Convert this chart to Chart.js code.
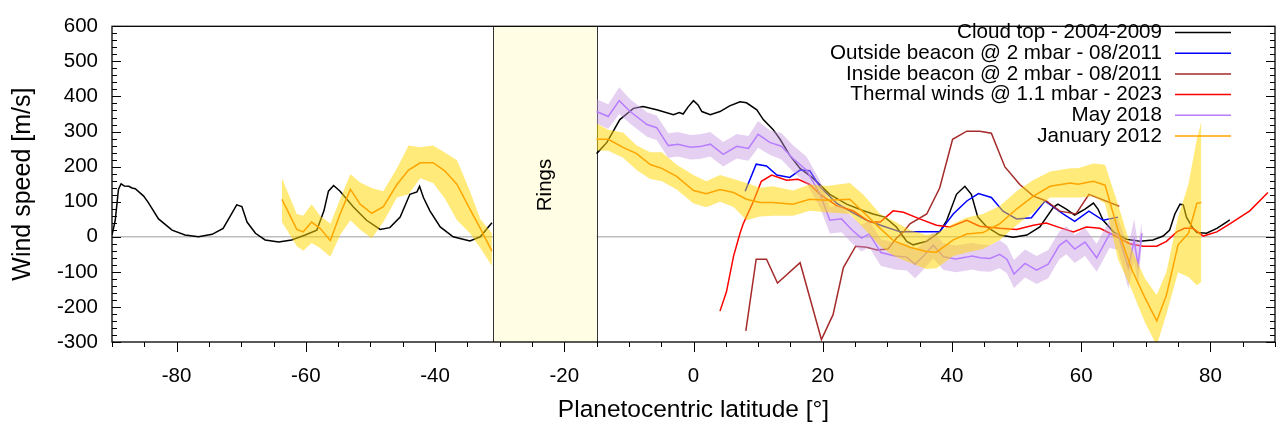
<!DOCTYPE html>
<html>
<head>
<meta charset="utf-8">
<script src="https://cdn.jsdelivr.net/npm/chart.js@4.4.0/dist/chart.umd.min.js"></script>
<style>
  html, body { margin: 0; padding: 0; background: #fff; }
</style>
</head>
<body>
<canvas id="chart" width="1281" height="427"></canvas>
<script>
// cloud top 2004-2009 (southern and northern pieces)
const cloudLatS = [-90, -89.5, -89, -88.6, -88.1, -87.4, -86.9, -86.4, -85.1, -84.4, -82.8, -80.7, -78.7, -76.6, -74.5, -72.8, -71.5, -70.7, -69.9, -69.1, -67.8, -66.3, -64.2, -62.2, -60.1, -58.3, -57.2, -56.5, -55.7, -54.7, -52.6, -50.6, -48.5, -47, -45.4, -43.9, -42.8, -42.4, -41.8, -40.8, -39.2, -37.2, -34.6, -33, -31.2];
const cloudS = [5, 47, 135, 151, 145, 144, 139, 137, 116, 98, 51, 19, 5, 0, 7, 24, 65, 91, 86, 42, 10, -9, -15, -9, 5, 19, 74, 130, 146, 130, 84, 47, 21, 26, 56, 121, 128, 144, 112, 74, 28, 0, -12, 0, 40];
const cloudLatN = [-15, -13.4, -11.4, -9.3, -7.8, -5.7, -3.1, -2.2, -1.6, -0.8, 0, 0.7, 1.3, 2.6, 4.1, 5.6, 7.2, 8.2, 9.8, 10.8, 12.3, 13.4, 14.9, 16.5, 18.5, 21.1, 23.7, 26.3, 27.8, 29.6, 31.4, 33, 34, 36.1, 38.1, 39.2, 40.7, 42, 43, 44, 45.4, 47.4, 49.5, 51.6, 53.6, 55.7, 56.4, 57.7, 59, 60.6, 61.9, 62.6, 63.4, 65, 67, 69.1, 71.1, 72.7, 73.7, 74.5, 75.3, 75.8, 76.3, 77.3, 77.9, 79.4, 81, 82.5, 83];
const cloudN = [237, 269, 334, 366, 371, 362, 348, 354, 350, 371, 388, 376, 357, 348, 357, 373, 385, 382, 362, 334, 306, 278, 232, 195, 167, 121, 93, 74, 65, 56, 28, -13, -23, -13, 14, 47, 121, 144, 121, 56, 28, 5, -1, 5, 28, 84, 93, 79, 62, 79, 96, 79, 47, 14, -7, -13, -9, 2, 19, 65, 93, 91, 56, 24, 12, 10, 24, 42, 48];

// outside beacon @ 2 mbar - 08/2011
const outsideLat = [8, 9.7, 11.3, 12.9, 14.9, 16.5, 18, 19.6, 22.2, 24.5, 26.8, 29.4, 32, 35, 38.1, 40.2, 42.3, 44.1, 46.1, 47.9, 50, 52.3, 54.4, 57.2, 59, 61.2, 63.4, 65.7];
const outside = [130, 207, 202, 176, 169, 190, 188, 142, 95, 70, 47, 30, 14, 14, 14, 65, 102, 123, 112, 73, 51, 54, 102, 65, 44, 73, 47, 56];

// inside beacon @ 2 mbar - 08/2011
const insideLat = [8.1, 9.7, 11.3, 13, 16.5, 19.8, 21.6, 23.2, 25.1, 26.8, 28.4, 30.1, 31.4, 32.5, 33.5, 36.1, 38.1, 40.1, 42.3, 44.3, 46.1, 48.2, 50.5, 52.6, 54.6, 56.7, 59.2, 61.2, 65.9];
const inside = [-268, -64, -64, -132, -74, -293, -222, -88, -27, -30, -38, -35, -4, 14, 37, 65, 139, 278, 301, 301, 295, 199, 149, 116, 102, 73, 65, 121, 87];

// thermal winds @ 1.1 mbar - 2023
const thermalLat = [4.1, 5.1, 6.2, 7.2, 7.7, 9.3, 10.5, 12.1, 14.4, 16.2, 18, 19.6, 22.2, 24.7, 27.3, 28.9, 30.9, 32.5, 35, 37.6, 39.7, 42.3, 44.3, 47.4, 50, 52.6, 54.6, 56.7, 58.8, 60.8, 62.9, 65.5, 67.5, 69.6, 71.7, 73.2, 74.8, 76, 77.3, 78.9, 81, 83, 86.1, 88.9];
const thermal = [-212, -157, -55, 10, 37, 102, 158, 176, 161, 164, 149, 121, 88, 74, 42, 42, 74, 70, 51, 33, 28, 47, 30, 24, 21, 33, 39, 26, 14, 28, 24, 0, -20, -27, -27, -13, 14, 24, 24, 2, 14, 37, 74, 126];

// May 2018 (value and error)
const mayLat = [-15, -13.2, -11.5, -9.8, -7.2, -5.7, -3.9, -2.4, -0.5, 1, 2.6, 4.6, 6.7, 8.5, 10, 11.8, 13.6, 15.4, 17.5, 19.6, 21.1, 22.9, 24.5, 26, 27.2, 29, 31.2, 33, 34.3, 35.6, 37.1, 38.7, 40.6, 42.3, 43.1, 44.4, 45.9, 47.4, 48.5, 49.6, 51.3, 53.1, 54.9, 56.6, 57.7, 59, 60.6, 62.4, 64.4, 65.7, 67.3, 68.2, 68.8, 69.4];
const may = [357, 343, 388, 357, 320, 311, 260, 264, 255, 257, 264, 235, 258, 252, 292, 269, 258, 223, 190, 121, 47, 51, 20, -4, 8, -45, -55, -58, -78, -55, -24, -57, -63, -58, -55, -60, -62, -50, -64, -106, -76, -95, -78, -25, -10, -35, -15, -60, 8, 8, -88, -10, -80, 10];
const mayErr = [35, 35, 38, 35, 35, 35, 35, 35, 35, 35, 35, 35, 35, 35, 38, 35, 38, 38, 38, 38, 38, 38, 38, 38, 38, 38, 38, 38, 40, 38, 38, 38, 38, 38, 38, 38, 38, 40, 40, 40, 40, 40, 40, 40, 40, 40, 40, 40, 40, 45, 60, 60, 60, 30];

// January 2012 (value, upper, lower)
const janLatS = [-63.7, -61.4, -60.4, -59.1, -57.8, -56.2, -54.7, -53.1, -51.6, -49.8, -48, -45.9, -44.1, -42.3, -40.3, -38.5, -36.6, -34.6, -33, -31.2];
const janS = [107, 21, 14, 42, 24, -11, 65, 135, 93, 67, 86, 149, 190, 211, 211, 188, 149, 79, 24, -41];
const janHiS = [167, 65, 60, 93, 60, 37, 107, 178, 155, 139, 130, 195, 260, 255, 260, 240, 218, 130, 51, 10];
const janLoS = [42, -27, -40, -18, -32, -57, 5, 47, 20, -4, 42, 112, 121, 167, 153, 110, 47, 10, -32, -83];
const janLatN = [-15, -13.2, -10.9, -8.8, -6.7, -4.9, -2.6, 0, 2, 4.1, 6.2, 8.2, 10.3, 12.3, 15.4, 18, 20.6, 24.2, 26.3, 28.9, 31, 33.5, 36, 37.6, 40.2, 42.3, 44.8, 47.4, 50, 52.6, 55.2, 58.3, 59.5, 61.9, 63.7, 65.7, 67.8, 69.9, 71.7, 73.2, 75, 76.6, 77.9, 78.6];
const janN = [278, 278, 255, 237, 206, 195, 172, 132, 123, 135, 126, 107, 98, 98, 93, 107, 104, 107, 70, 24, -12, -30, -42, -44, -9, 8, 12, 37, 79, 116, 144, 153, 150, 158, 147, 19, -92, -175, -240, -166, -23, 10, 95, 98];
const janHiN = [323, 305, 297, 260, 241, 241, 205, 176, 158, 176, 165, 153, 140, 144, 132, 149, 145, 153, 120, 65, 45, 19, 5, 10, 37, 55, 65, 88, 130, 162, 186, 195, 195, 209, 205, 93, -35, -120, -166, -100, 56, 150, 278, 329];
const janLoN = [246, 245, 225, 190, 165, 158, 135, 95, 84, 100, 85, 47, 58, 60, 60, 74, 70, 65, 25, -27, -55, -74, -92, -90, -55, -45, -35, -9, 33, 70, 112, 112, 112, 115, 95, -64, -150, -245, -310, -220, -101, -115, -138, -129];

const legendLabels = ['Cloud top - 2004-2009', 'Outside beacon @ 2 mbar - 08/2011', 'Inside beacon @ 2 mbar - 08/2011', 'Thermal winds @ 1.1 mbar - 2023', 'May 2018', 'January 2012'];
const legendColors = ['#000000', '#0000ff', '#a52a2a', '#ff0000', '#b77dff', '#ffa500'];
const xTicks = [-80, -60, -40, -20, 0, 20, 40, 60, 80];
const ringLat = [-31, -15];

const FONT = 'Liberation Sans, Arial, Helvetica, sans-serif';
const pts = (lat, val) => lat.map((x, i) => ({ x: x, y: val[i] }));

function line(data, color, order) {
  return { data: data, borderColor: color, borderWidth: 1.5, pointRadius: 0, fill: false, order: order };
}
function edge(data, order, fillTo, bg) {
  return { data: data, borderWidth: 0, borderColor: 'rgba(0,0,0,0)', pointRadius: 0,
           fill: fillTo === undefined ? false : { target: fillTo }, backgroundColor: bg, order: order };
}

const purpleBand = 'rgba(200,150,225,0.45)';
const yellowBand = 'rgba(255,215,0,0.52)';

const datasets = [
  line(pts(cloudLatS, cloudS), '#000000', 20),          // 0
  line(pts(cloudLatN, cloudN), '#000000', 20),          // 1
  line(pts(outsideLat, outside), '#0000ff', 19),        // 2
  line(pts(insideLat, inside), '#a52a2a', 18),          // 3
  line(pts(thermalLat, thermal), '#ff0000', 17),        // 4
  edge(mayLat.map((x, i) => ({ x: x, y: may[i] + mayErr[i] })), 16, 6, purpleBand), // 5
  edge(mayLat.map((x, i) => ({ x: x, y: may[i] - mayErr[i] })), 16),               // 6
  line(pts(mayLat, may), '#b77dff', 15),                // 7
  edge(pts(janLatS, janHiS), 14, 9, yellowBand),        // 8
  edge(pts(janLatS, janLoS), 14),                       // 9
  edge(pts(janLatN, janHiN), 14, 11, yellowBand),       // 10
  edge(pts(janLatN, janLoN), 14),                       // 11
  line(pts(janLatS, janS), '#ffa500', 13),              // 12
  line(pts(janLatN, janN), '#ffa500', 13)               // 13
];

const frame = {
  id: 'frame',
  beforeDatasetsDraw(chart) {
    const { ctx, chartArea: a, scales: { x, y } } = chart;
    ctx.save();
    // zero line
    ctx.strokeStyle = '#bdbdbd';
    ctx.lineWidth = 1.6;
    ctx.beginPath();
    ctx.moveTo(a.left, y.getPixelForValue(0));
    ctx.lineTo(a.right, y.getPixelForValue(0));
    ctx.stroke();
    // rings
    const x0 = x.getPixelForValue(ringLat[0]), x1 = x.getPixelForValue(ringLat[1]);
    ctx.fillStyle = '#fffde3';
    ctx.fillRect(x0, a.top, x1 - x0, a.bottom - a.top);
    ctx.strokeStyle = '#333';
    ctx.lineWidth = 1;
    ctx.beginPath();
    ctx.moveTo(Math.round(x0) + 0.5, a.top); ctx.lineTo(Math.round(x0) + 0.5, a.bottom);
    ctx.moveTo(Math.round(x1) + 0.5, a.top); ctx.lineTo(Math.round(x1) + 0.5, a.bottom);
    ctx.stroke();
    ctx.translate((x0 + x1) / 2, 185);
    ctx.rotate(-Math.PI / 2);
    ctx.fillStyle = '#000';
    ctx.font = '20.5px ' + FONT;
    ctx.textAlign = 'center';
    ctx.textBaseline = 'middle';
    ctx.fillText('Rings', 0, 0);
    ctx.restore();
  },
  afterDraw(chart) {
    const { ctx, chartArea: a, scales: { x, y } } = chart;
    ctx.save();
    ctx.strokeStyle = '#000';
    ctx.lineWidth = 1.3;
    ctx.strokeRect(a.left, a.top, a.right - a.left, a.bottom - a.top);
    ctx.lineWidth = 1;
    ctx.beginPath();
    for (let v = -90; v <= 90; v += 5) {
      const px = Math.round(x.getPixelForValue(v)) + 0.5;
      ctx.moveTo(px, a.bottom);
      ctx.lineTo(px, a.bottom + (v % 20 === 0 ? 10 : 5));
    }
    for (let v = -300; v <= 600; v += 20) {
      const py = Math.round(y.getPixelForValue(v)) + 0.5;
      const len = v % 100 === 0 ? 9 : 5;
      ctx.moveTo(a.left, py); ctx.lineTo(a.left + len, py);
      ctx.moveTo(a.right, py); ctx.lineTo(a.right - len, py);
    }
    ctx.stroke();
    // legend
    ctx.font = '20.6px ' + FONT;
    ctx.textAlign = 'right';
    ctx.textBaseline = 'middle';
    legendLabels.forEach((lab, i) => {
      const ly = 32.5 + i * 20.7;
      ctx.fillStyle = '#000';
      ctx.fillText(lab, 1162, ly);
      ctx.strokeStyle = legendColors[i];
      ctx.lineWidth = 1.5;
      ctx.beginPath();
      ctx.moveTo(1175, ly);
      ctx.lineTo(1231, ly);
      ctx.stroke();
    });
    ctx.restore();
  }
};

new Chart(document.getElementById('chart'), {
  type: 'line',
  data: { datasets: datasets },
  plugins: [frame],
  options: {
    responsive: false,
    animation: false,
    devicePixelRatio: 1,
    layout: { padding: { top: 17, right: 6, left: 0, bottom: 0 } },
    plugins: { legend: { display: false }, tooltip: { enabled: false } },
    elements: { line: { tension: 0 }, point: { radius: 0 } },
    scales: {
      x: {
        type: 'linear',
        min: -90,
        max: 90,
        afterBuildTicks: (s) => { s.ticks = xTicks.map(v => ({ value: v })); },
        afterFit: (s) => { s.height = 85; },
        grid: { display: false, drawTicks: false },
        border: { display: false },
        ticks: { color: '#000', padding: 22, maxRotation: 0, font: { family: FONT, size: 20.5 } },
        title: { display: true, text: 'Planetocentric latitude [°]', color: '#000', padding: { top: 0, bottom: 2 }, font: { family: FONT, size: 24.5 } }
      },
      y: {
        type: 'linear',
        min: -300,
        max: 600,
        afterFit: (s) => { s.width = 112; },
        grid: { display: false, drawTicks: false },
        border: { display: false },
        ticks: { color: '#000', stepSize: 100, padding: 14, font: { family: FONT, size: 20.5 } },
        title: { display: true, text: 'Wind speed [m/s]', color: '#000', padding: { top: 8, bottom: 0 }, font: { family: FONT, size: 25 } }
      }
    }
  }
});
</script>
</body>
</html>
